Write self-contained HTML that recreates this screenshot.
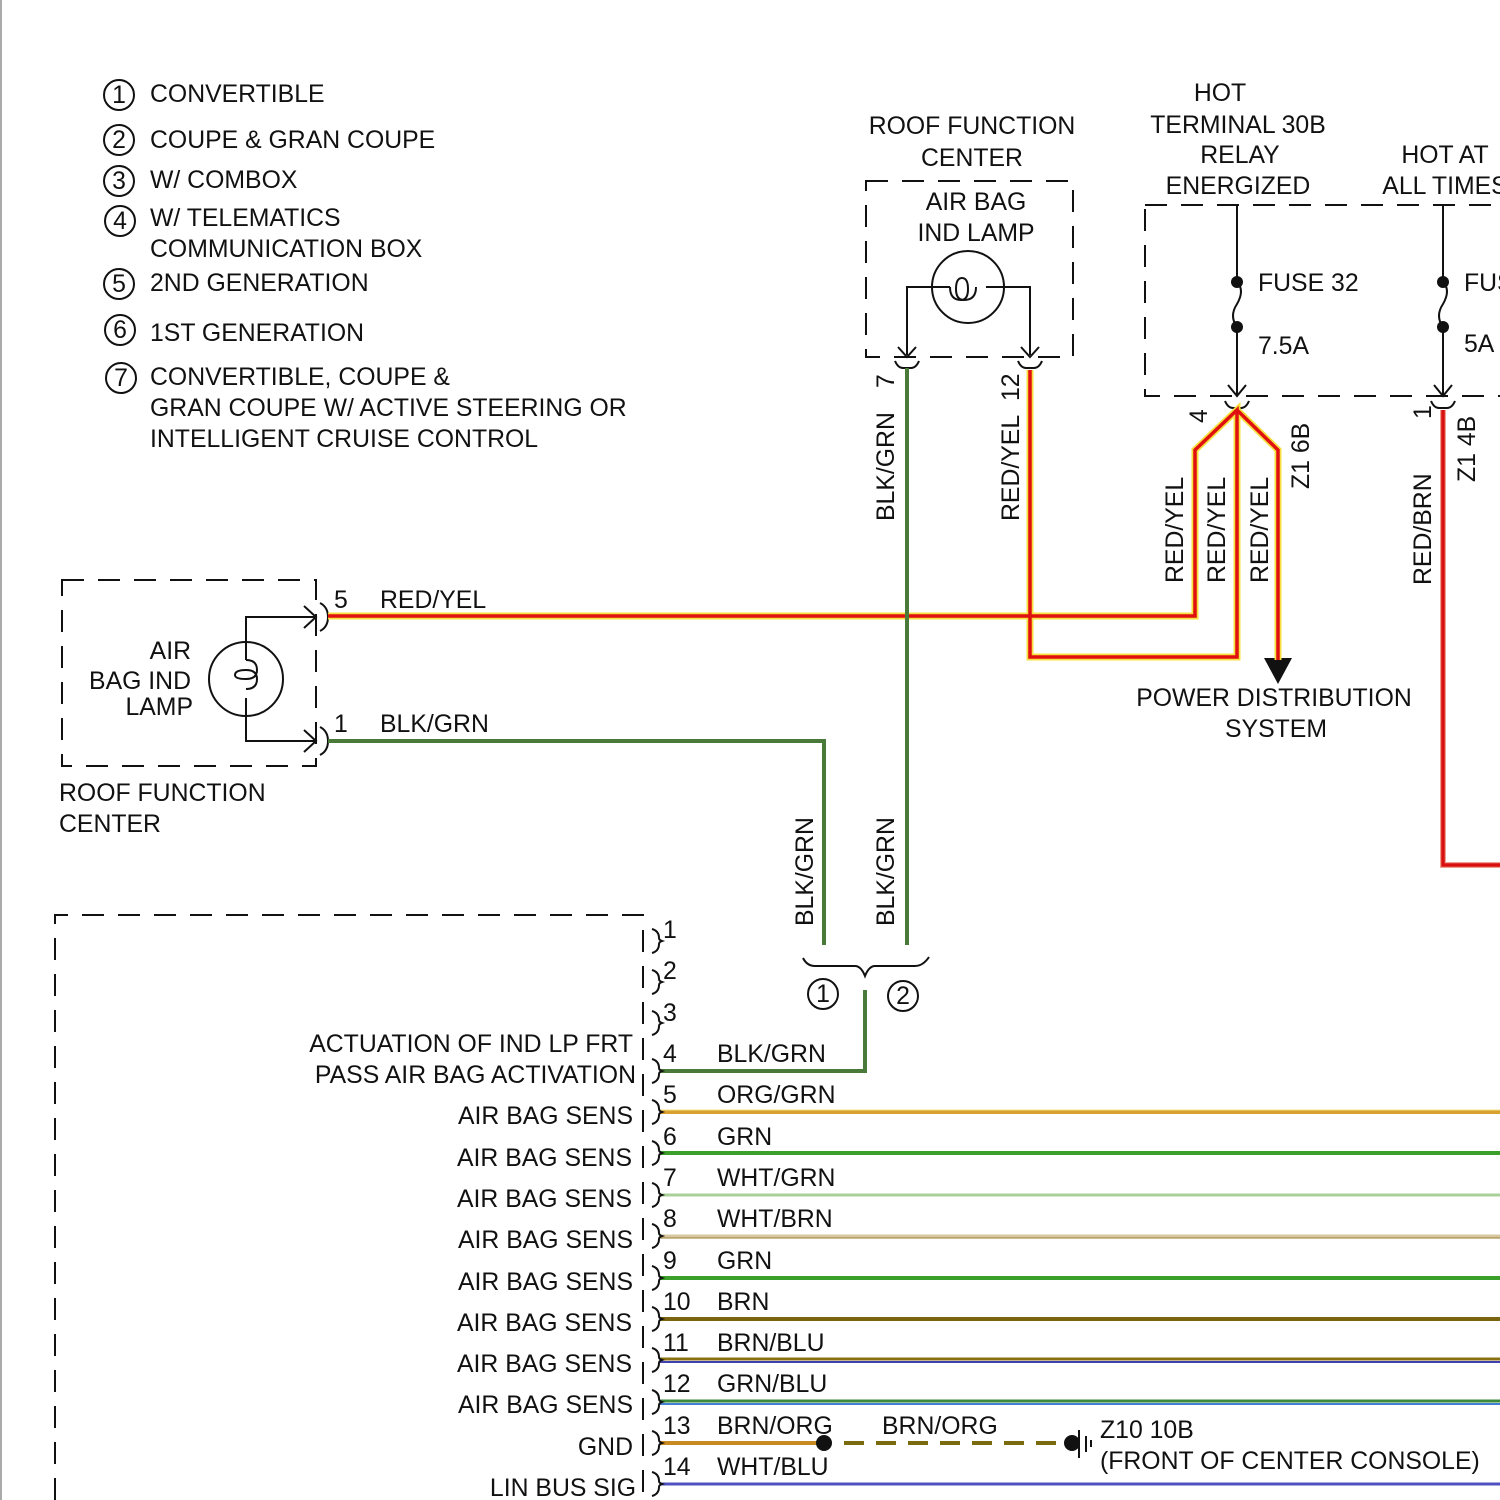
<!DOCTYPE html>
<html><head><meta charset="utf-8"><style>
html,body{margin:0;padding:0;background:#fff}
svg{display:block}
text{font-family:"Liberation Sans",sans-serif;font-size:24.8px;fill:#111}
</style></head><body>
<svg width="1500" height="1500" viewBox="0 0 1500 1500" xmlns="http://www.w3.org/2000/svg">
<line x1="1" y1="0" x2="1" y2="1500" stroke="#aaa" stroke-width="2"/>
<g fill="none" stroke="#111" stroke-width="2">
<circle cx="119" cy="95" r="15"/><circle cx="119" cy="140" r="15"/><circle cx="119" cy="181" r="15"/>
<circle cx="120" cy="221" r="15"/><circle cx="119" cy="284" r="15"/><circle cx="120" cy="330" r="15"/><circle cx="121" cy="378" r="15"/>
</g>
<g text-anchor="middle" style="font-size:21px">
<text x="119" y="103">1</text><text x="119" y="148">2</text><text x="119" y="189">3</text><text x="120" y="229">4</text><text x="119" y="292">5</text><text x="120" y="338">6</text><text x="121" y="386">7</text>
</g>
<text x="150" y="102">CONVERTIBLE</text>
<text x="150" y="148">COUPE &amp; GRAN COUPE</text>
<text x="150" y="188">W/ COMBOX</text>
<text x="150" y="226">W/ TELEMATICS</text>
<text x="150" y="257">COMMUNICATION BOX</text>
<text x="150" y="291">2ND GENERATION</text>
<text x="150" y="341">1ST GENERATION</text>
<text x="150" y="385">CONVERTIBLE, COUPE &amp;</text>
<text x="150" y="416">GRAN COUPE W/ ACTIVE STEERING OR</text>
<text x="150" y="447">INTELLIGENT CRUISE CONTROL</text>

<g text-anchor="middle">
<text x="972" y="134">ROOF FUNCTION</text><text x="972" y="166">CENTER</text>
<text x="976" y="210">AIR BAG</text><text x="976" y="241">IND LAMP</text>
<text x="1220" y="101">HOT</text><text x="1238" y="133">TERMINAL 30B</text><text x="1240" y="163">RELAY</text><text x="1238" y="194">ENERGIZED</text>
<text x="1445" y="163">HOT AT</text><text x="1445" y="194">ALL TIMES</text>
<text x="1274" y="706">POWER DISTRIBUTION</text><text x="1276" y="737">SYSTEM</text>
</g>
<text x="1258" y="291">FUSE 32</text><text x="1258" y="354">7.5A</text>
<text x="1464" y="291">FUSE</text><text x="1464" y="352">5A</text>

<g fill="none" stroke="#111" stroke-width="2" stroke-dasharray="22 14">
<rect x="866" y="181" width="207" height="176"/>
<rect x="1145" y="205" width="380" height="191"/>
<rect x="62" y="580" width="254" height="186"/>
<polyline points="55,1500 55,915 643,915 643,1500"/>
</g>
<g fill="none" stroke="#111" stroke-width="2">
<circle cx="968" cy="287" r="36"/>
<polyline points="907,355 907,287 950,287"/>
<polyline points="1030,355 1030,287 986,287"/>
<path d="M950,287 q0,13 11,13 q7,0 7,-11 q0,-11 -6,-11 q-6,0 -6,11 q0,11 8,11 q12,0 12,-13"/>
<path d="M898,347 l9,10 l9,-10 M1021,347 l9,10 l9,-10"/>
<path d="M895,361 q3,7 8,7 h8 q5,0 8,-7 M1018,361 q3,7 8,7 h8 q5,0 8,-7"/>
<line x1="1237" y1="205" x2="1237" y2="282"/><line x1="1237" y1="327" x2="1237" y2="396"/>
<path d="M1237,282 q8,8 0,22 q-8,12 0,23"/>
<line x1="1443" y1="205" x2="1443" y2="282"/><line x1="1443" y1="327" x2="1443" y2="396"/>
<path d="M1443,282 q8,8 0,22 q-8,12 0,23"/>
<path d="M1228,385 l9,11 l9,-11 M1434,385 l9,11 l9,-11"/>
<path d="M1225,401 q3,7 8,7 h8 q5,0 8,-7 M1431,401 q3,7 8,7 h8 q5,0 8,-7"/>
<circle cx="246" cy="679" r="37"/>
<polyline points="316,617 246,617 246,660"/><polyline points="316,741 246,741 246,698"/>
<path d="M246,660 q11,0 11,10 q0,9 -11,9 q-11,0 -11,-4 q0,-5 11,-5 q11,0 11,9 q0,10 -11,10"/>
<path d="M304,606 l12,11 l-12,11 M304,730 l12,11 l-12,11"/>
<path d="M320,603 q8,4 8,14 q0,10 -8,14 M320,727 q8,4 8,14 q0,10 -8,14"/>
</g>
<g fill="#111"><circle cx="1237" cy="282" r="6"/><circle cx="1237" cy="327" r="6"/><circle cx="1443" cy="282" r="6"/><circle cx="1443" cy="327" r="6"/>
<polygon points="1264,658 1292,658 1278,684"/></g>

<g fill="none" stroke-linejoin="miter">
<g stroke="#f5e040" stroke-width="7">
<polyline points="328,616 1195,616 1195,450 1237,410 1237,657 1030,657 1030,370"/>
<polyline points="1237,410 1278,450 1278,660"/>
</g>
<g stroke="#e01010" stroke-width="3.5">
<polyline points="328,616 1195,616 1195,450 1237,410 1237,657 1030,657 1030,370"/>
<polyline points="1237,410 1278,450 1278,660"/>
</g>
<polyline points="1443,410 1443,865 1500,865" stroke="#f0a090" stroke-width="6"/>
<polyline points="1443,410 1443,865 1500,865" stroke="#d81010" stroke-width="3.5"/>
<g stroke="#4a7a3a" stroke-width="4">
<line x1="907" y1="368" x2="907" y2="945"/>
<polyline points="328,741 824,741 824,945"/>
<polyline points="865,990 865,1071 660,1071"/>
</g>
<path d="M803,958 q4,8 12,8 h40 q6,0 10,10 q4,-10 10,-10 h40 q8,0 14,-9" stroke="#111" stroke-width="2"/>
<line x1="660" y1="1112" x2="1500" y2="1112" stroke="#d9a030" stroke-width="4"/>
<line x1="660" y1="1110" x2="1500" y2="1110" stroke="#f0e080" stroke-width="1"/>
<line x1="660" y1="1153" x2="1500" y2="1153" stroke="#3aa02a" stroke-width="4"/>
<line x1="660" y1="1195" x2="1500" y2="1195" stroke="#a8d098" stroke-width="3"/>
<line x1="660" y1="1236" x2="1500" y2="1236" stroke="#d8c8a0" stroke-width="3"/>
<line x1="660" y1="1238" x2="1500" y2="1238" stroke="#9a7a30" stroke-width="1"/>
<line x1="660" y1="1278" x2="1500" y2="1278" stroke="#3aa02a" stroke-width="4"/>
<line x1="660" y1="1319" x2="1500" y2="1319" stroke="#7a6410" stroke-width="4"/>
<line x1="660" y1="1359" x2="1500" y2="1359" stroke="#8a7010" stroke-width="3"/>
<line x1="660" y1="1362" x2="1500" y2="1362" stroke="#4040b0" stroke-width="2"/>
<line x1="660" y1="1401" x2="1500" y2="1401" stroke="#3a8a3a" stroke-width="3"/>
<line x1="660" y1="1404" x2="1500" y2="1404" stroke="#4080d0" stroke-width="2"/>
<line x1="660" y1="1443" x2="824" y2="1443" stroke="#c88a20" stroke-width="4"/>
<line x1="844" y1="1443" x2="1068" y2="1443" stroke="#7a6a10" stroke-width="4" stroke-dasharray="20 12"/>
<line x1="660" y1="1484" x2="1500" y2="1484" stroke="#5050c0" stroke-width="3"/>
<g stroke="#111" stroke-width="2">
<path id="b" d="M652,929 q7,2 7,9 q0,2 3,3 q-3,1 -3,3 q0,7 -7,9"/>
<path d="M652,970 q7,2 7,9 q0,2 3,3 q-3,1 -3,3 q0,7 -7,9"/><path d="M652,1011 q7,2 7,9 q0,2 3,3 q-3,1 -3,3 q0,7 -7,9"/>
<path d="M652,1059 q7,2 7,9 q0,2 3,3 q-3,1 -3,3 q0,7 -7,9"/><path d="M652,1100 q7,2 7,9 q0,2 3,3 q-3,1 -3,3 q0,7 -7,9"/><path d="M652,1141 q7,2 7,9 q0,2 3,3 q-3,1 -3,3 q0,7 -7,9"/>
<path d="M652,1183 q7,2 7,9 q0,2 3,3 q-3,1 -3,3 q0,7 -7,9"/><path d="M652,1224 q7,2 7,9 q0,2 3,3 q-3,1 -3,3 q0,7 -7,9"/><path d="M652,1266 q7,2 7,9 q0,2 3,3 q-3,1 -3,3 q0,7 -7,9"/>
<path d="M652,1307 q7,2 7,9 q0,2 3,3 q-3,1 -3,3 q0,7 -7,9"/><path d="M652,1348 q7,2 7,9 q0,2 3,3 q-3,1 -3,3 q0,7 -7,9"/><path d="M652,1390 q7,2 7,9 q0,2 3,3 q-3,1 -3,3 q0,7 -7,9"/>
<path d="M652,1431 q7,2 7,9 q0,2 3,3 q-3,1 -3,3 q0,7 -7,9"/><path d="M652,1472 q7,2 7,9 q0,2 3,3 q-3,1 -3,3 q0,7 -7,9"/>
<line x1="1079" y1="1430" x2="1079" y2="1458"/><line x1="1086" y1="1436" x2="1086" y2="1452"/><line x1="1091" y1="1440" x2="1091" y2="1447"/>
<circle cx="823" cy="994" r="15"/><circle cx="903" cy="996" r="15"/>
</g>
</g>
<g fill="#111"><circle cx="824" cy="1443" r="8"/><circle cx="1072" cy="1443" r="8"/></g>
<g text-anchor="middle" style="font-size:21px"><text x="823" y="1002">1</text><text x="903" y="1004">2</text></g>

<text x="334" y="608">5</text><text x="380" y="608">RED/YEL</text>
<text x="334" y="732">1</text><text x="380" y="732">BLK/GRN</text>
<g text-anchor="end"><text x="191" y="659">AIR</text><text x="191" y="689">BAG IND</text><text x="193" y="715">LAMP</text></g>
<text x="59" y="801">ROOF FUNCTION</text><text x="59" y="832">CENTER</text>

<g>
<text transform="translate(894,521) rotate(-90)">BLK/GRN</text>
<text transform="translate(894,388) rotate(-90)">7</text>
<text transform="translate(1019,521) rotate(-90)">RED/YEL</text>
<text transform="translate(1019,401) rotate(-90)">12</text>
<text transform="translate(1183,583) rotate(-90)">RED/YEL</text>
<text transform="translate(1225,583) rotate(-90)">RED/YEL</text>
<text transform="translate(1268,583) rotate(-90)">RED/YEL</text>
<text transform="translate(1309,489) rotate(-90)">Z1 6B</text>
<text transform="translate(1207,423) rotate(-90)">4</text>
<text transform="translate(1431,419) rotate(-90)">1</text>
<text transform="translate(1431,585) rotate(-90)">RED/BRN</text>
<text transform="translate(1475,482) rotate(-90)">Z1 4B</text>
<text transform="translate(813,926) rotate(-90)">BLK/GRN</text>
<text transform="translate(894,926) rotate(-90)">BLK/GRN</text>
</g>

<text x="663" y="938">1</text><text x="663" y="979">2</text><text x="663" y="1021">3</text>
<text x="663" y="1062">4</text><text x="717" y="1062">BLK/GRN</text>
<text x="663" y="1103">5</text><text x="717" y="1103">ORG/GRN</text>
<text x="663" y="1145">6</text><text x="717" y="1145">GRN</text>
<text x="663" y="1186">7</text><text x="717" y="1186">WHT/GRN</text>
<text x="663" y="1227">8</text><text x="717" y="1227">WHT/BRN</text>
<text x="663" y="1269">9</text><text x="717" y="1269">GRN</text>
<text x="663" y="1310">10</text><text x="717" y="1310">BRN</text>
<text x="663" y="1351">11</text><text x="717" y="1351">BRN/BLU</text>
<text x="663" y="1392">12</text><text x="717" y="1392">GRN/BLU</text>
<text x="663" y="1434">13</text><text x="717" y="1434">BRN/ORG</text><text x="882" y="1434">BRN/ORG</text>
<text x="663" y="1475">14</text><text x="717" y="1475">WHT/BLU</text>
<text x="1100" y="1438">Z10 10B</text><text x="1100" y="1469">(FRONT OF CENTER CONSOLE)</text>

<g text-anchor="end">
<text x="633" y="1052">ACTUATION OF IND LP FRT</text>
<text x="636" y="1083">PASS AIR BAG ACTIVATION</text>
<text x="633" y="1124">AIR BAG SENS</text>
<text x="632" y="1166">AIR BAG SENS</text>
<text x="632" y="1207">AIR BAG SENS</text>
<text x="633" y="1248">AIR BAG SENS</text>
<text x="633" y="1290">AIR BAG SENS</text>
<text x="632" y="1331">AIR BAG SENS</text>
<text x="632" y="1372">AIR BAG SENS</text>
<text x="633" y="1413">AIR BAG SENS</text>
<text x="633" y="1455">GND</text>
<text x="636" y="1496">LIN BUS SIG</text>
</g>
</svg>
</body></html>
